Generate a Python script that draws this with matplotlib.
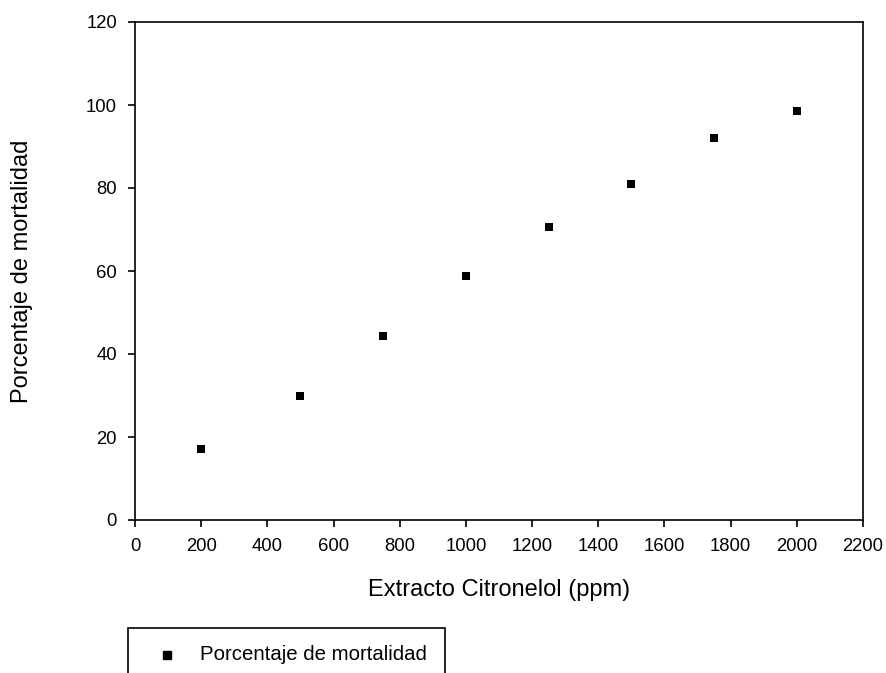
import matplotlib
matplotlib.use("Agg")
import matplotlib.pyplot as plt
from matplotlib.patches import Rectangle
from matplotlib.lines import Line2D

plt.rcParams['font.family'] = ['Liberation Sans', 'DejaVu Sans']

concentration = [200, 500, 750, 1000, 1250, 1500, 1750, 2000]
mortality = [17.1, 29.8, 44.3, 58.9, 70.5, 81.0, 92.1, 98.6]
series_label = "Porcentaje de mortalidad"
xticks = list(range(0, 2201, 200))
yticks = list(range(0, 121, 20))

W, H = 887, 673
fig = plt.figure(figsize=(W/100, H/100), dpi=100)
ax = fig.add_axes([135/W, 1-520/H, (863-135)/W, (520-22)/H])
ax.scatter(concentration, mortality, marker='s', s=30, color='black', linewidths=0)
ax.set_xlim(0, 2200)
ax.set_ylim(0, 120)
ax.set_xticks(xticks)
ax.set_yticks(yticks)
ax.tick_params(direction='out', length=5, width=1.2, labelsize=13.3, pad=8)
ax.tick_params(top=False, right=False)
for s in ax.spines.values():
    s.set_linewidth(1.2)
ax.set_xlabel("Extracto Citronelol (ppm)", fontsize=17, labelpad=16)
ax.set_ylabel("Porcentaje de mortalidad", fontsize=17, labelpad=28)
ax.xaxis.set_label_coords(0.5, -(590-520)/(520-22), transform=ax.transAxes)
ax.yaxis.set_label_coords(-(135-22)/(863-135), 0.5, transform=ax.transAxes)
ax.xaxis.label.set_va('center')
ax.yaxis.label.set_va('center')

# legend box (extends past bottom edge like the reference)
rect = Rectangle((128/W, -0.05), (445-128)/W, (1-628/H)+0.05, transform=fig.transFigure,
                 facecolor='white', edgecolor='black', linewidth=1.2, clip_on=False)
fig.patches.append(rect)
fig.lines.append(Line2D([167/W], [1-655/H], marker='s', markersize=5.5, color='black',
                        linestyle='none', transform=fig.transFigure))
fig.text(200/W, 1-655/H, series_label, fontsize=14.7, va='center', ha='left')

fig.savefig("out.png", dpi=100)
